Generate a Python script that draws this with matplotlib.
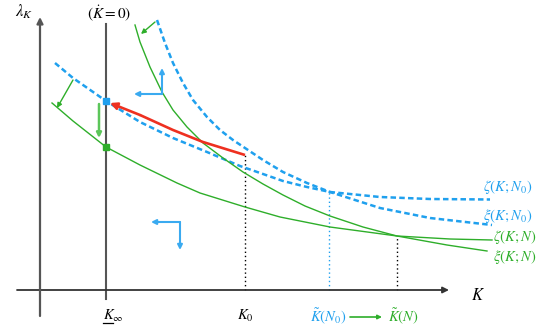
import matplotlib
matplotlib.use("Agg")
import matplotlib.pyplot as plt

plt.rcParams['mathtext.fontset'] = 'stix'
plt.rcParams['font.family'] = ['Liberation Serif', 'DejaVu Serif']

# ---- schematic data (arbitrary units: K horizontal, lambda_K vertical) ----
xi_N0_K   = [11.7, 12.5, 13.3, 14.3, 15.3, 16.7, 18.0, 19.3, 20.5, 22.3, 24.3, 26.7, 29.0, 34.0, 39.0, 45.2]
xi_N0_lam = [27.0, 24.7, 22.7, 20.7, 19.0, 17.3, 16.0, 15.0, 14.2, 13.0, 11.8, 10.7, 9.8, 8.2, 7.2, 6.5]

zeta_N0_K   = [1.5, 3.3, 6.6, 10.0, 13.3, 16.7, 20.0, 22.3, 24.3, 26.7, 29.0, 34.0, 39.0, 45.0]
zeta_N0_lam = [22.7, 21.2, 18.9, 16.8, 15.2, 13.8, 12.4, 11.6, 10.9, 10.3, 9.8, 9.3, 9.1, 9.05]

xi_N_K   = [9.5, 10.0, 11.0, 12.2, 13.3, 14.7, 16.3, 18.3, 20.3, 22.3, 24.3, 26.5, 29.0, 32.3, 35.7, 40.7, 44.7]
xi_N_lam = [26.5, 24.8, 22.3, 19.8, 18.0, 16.3, 14.7, 13.2, 11.8, 10.6, 9.5, 8.4, 7.4, 6.3, 5.4, 4.5, 3.9]

zeta_N_K   = [1.2, 3.3, 6.6, 10.0, 13.7, 16.0, 20.5, 24.0, 29.0, 35.7, 41.0, 45.2]
zeta_N_lam = [18.7, 16.9, 14.3, 12.5, 10.7, 9.7, 8.3, 7.3, 6.3, 5.4, 5.1, 5.0]

path_K   = [20.5, 16.3, 13.3, 10.0, 7.0]
path_lam = [13.5, 14.8, 16.0, 17.5, 18.7]

K_inf, K0, Kt_N0, Kt_N = 6.6, 20.5, 28.9, 35.7
lam_K0, lam_KtN0, lam_KtN = 13.7, 9.8, 5.4
steady_N0 = (6.6, 18.9)
steady_N = (6.6, 14.3)

labels_right = [r'$\zeta(K;N_0)$', r'$\xi(K;N_0)$', r'$\zeta(K;N)$', r'$\xi(K;N)$']

BLUE = '#1FA0EE'
LBLUE = '#3AAAF0'
GREEN = '#2EAE2A'
LGREEN = '#5CC65A'
RED = '#EE3020'
AX = '#555555'

fig = plt.figure(figsize=(5.45, 3.31), dpi=100)
ax = fig.add_axes([0, 0, 1, 1])
ax.set_xlim(-4.0, 50.5)
ax.set_ylim(-4.1, 29.0)
ax.axis('off')

# axes
ax.annotate('', xy=(40.9, 0), xytext=(-2.3, 0),
            arrowprops=dict(arrowstyle='-|>', color='#333333', lw=1.3, mutation_scale=9, shrinkA=0, shrinkB=0))
ax.annotate('', xy=(0, 27.3), xytext=(0, -2.6),
            arrowprops=dict(arrowstyle='-|>', color=AX, lw=1.6, mutation_scale=9, shrinkA=0, shrinkB=0))
ax.plot([K_inf, K_inf], [-0.9, 26.6], color=AX, lw=1.5)

# dotted verticals
ax.plot([K0, K0], [0, lam_K0], color='black', lw=1.0, ls=(0, (1, 2)))
ax.plot([Kt_N0, Kt_N0], [0, lam_KtN0], color=BLUE, lw=1.0, ls=(0, (1, 2)))
ax.plot([Kt_N, Kt_N], [0, lam_KtN], color='black', lw=1.0, ls=(0, (1, 2)))

# curves
ax.plot(xi_N0_K, xi_N0_lam, color=BLUE, lw=1.8, ls=(0, (2.2, 1.3)))
ax.plot(zeta_N0_K, zeta_N0_lam, color=BLUE, lw=1.8, ls=(0, (2.2, 1.3)))
ax.plot(xi_N_K, xi_N_lam, color=GREEN, lw=1.0)
ax.plot(zeta_N_K, zeta_N_lam, color=GREEN, lw=1.0)

# transition path
ax.plot(path_K[:-1], path_lam[:-1], color=RED, lw=1.9, solid_capstyle='butt')
ax.annotate('', xy=(path_K[-1], path_lam[-1]), xytext=(path_K[-2], path_lam[-2]),
            arrowprops=dict(arrowstyle='-|>', color=RED, lw=1.9, mutation_scale=10, shrinkA=0, shrinkB=0))

# steady-state markers
ax.plot(*steady_N0, marker='s', ms=5, color=BLUE, zorder=5)
ax.plot(*steady_N, marker='s', ms=5, color=GREEN, zorder=5)

def arr(x0, y0, x1, y1, c, lw=1.0, ms=7):
    ax.annotate('', xy=(x1, y1), xytext=(x0, y0),
                arrowprops=dict(arrowstyle='-|>', color=c, lw=lw, mutation_scale=ms, shrinkA=0, shrinkB=0))

# shift arrows (green)
arr(11.5, 26.8, 10.1, 25.6, GREEN)
arr(3.3, 21.0, 1.7, 18.2, GREEN)
arr(5.9, 18.6, 5.9, 15.2, LGREEN, lw=1.8, ms=7)

# direction arrows (blue)
arr(12.2, 19.6, 12.2, 22.2, LBLUE, lw=1.5)
arr(12.2, 19.6, 9.4, 19.6, LBLUE, lw=1.5)
arr(14.0, 6.8, 11.1, 6.8, LBLUE, lw=1.5)
arr(14.0, 6.8, 14.0, 4.0, LBLUE, lw=1.5)

fs = 10.5
ax.text(-1.6, 27.8, r'$\lambda_K$', fontsize=12, ha='center', va='center')
ax.text(6.9, 27.7, r'$(\dot{K}=0)$', fontsize=fs + 0.5, ha='center', va='center')
ax.text(43.8, -0.6, r'$K$', fontsize=fs + 1.5, ha='center', va='center')
ax.text(K0, -2.6, r'$K_0$', fontsize=fs, ha='center', va='center')
ax.text(K_inf + 0.7, -2.6, r'$K_\infty$', fontsize=fs, ha='center', va='center')
ax.plot([K_inf - 0.3, K_inf + 0.7], [-3.25, -3.25], color='black', lw=0.9)

ax.text(30.6, -2.7, r'$\tilde{K}(N_0)$', fontsize=fs, color=BLUE, ha='right', va='center')
arr(31.0, -2.7, 34.2, -2.7, GREEN, lw=1.2, ms=6)
ax.text(34.8, -2.7, r'$\tilde{K}(N)$', fontsize=fs, color=GREEN, ha='left', va='center')

ax.text(44.3, 10.3, labels_right[0], fontsize=fs, color=BLUE, ha='left', va='center')
ax.text(44.3, 7.4, labels_right[1], fontsize=fs, color=BLUE, ha='left', va='center')
ax.text(45.3, 5.3, labels_right[2], fontsize=fs, color=GREEN, ha='left', va='center')
ax.text(45.3, 3.3, labels_right[3], fontsize=fs, color=GREEN, ha='left', va='center')

fig.savefig('out.png', dpi=100)
